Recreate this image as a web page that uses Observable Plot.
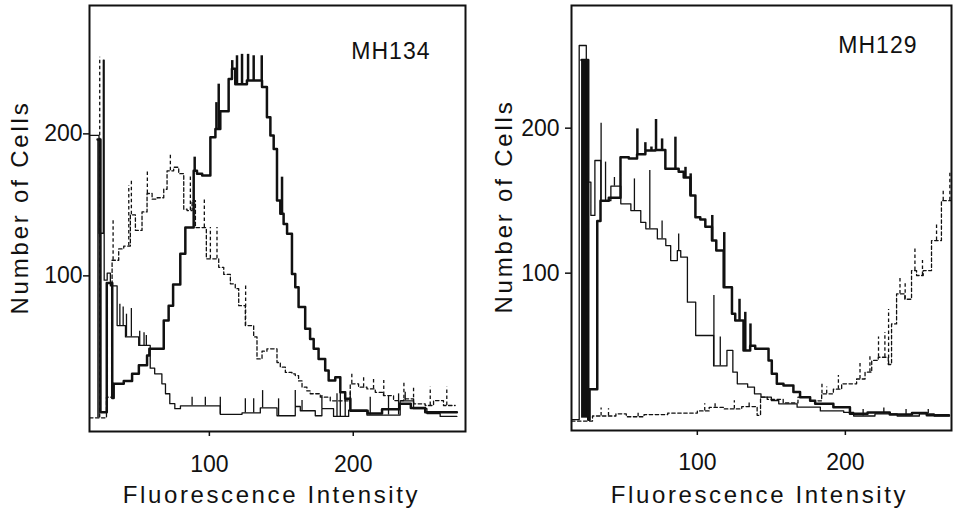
<!DOCTYPE html>
<html><head><meta charset="utf-8">
<script src="https://cdn.jsdelivr.net/npm/d3@7"></script>
<script src="https://cdn.jsdelivr.net/npm/@observablehq/plot@0.6"></script>
<style>
body{margin:0;background:#fff;}
#wrap{display:flex;width:954px;height:509px;overflow:hidden;}
svg{display:block}
</style></head><body><div id="wrap"></div>
<script>
// ---------- Panel titles / labels ----------
const panelNames = ["MH134", "MH129"];
const yTitle = "Number of Cells";
const xTitle = "Fluorescence Intensity";
const tickValues = [100, 200];

// ---------- MH134 (left) : bin left edges and cell counts ----------
const thinL_x = [16.7, 23.3, 26.3, 26.9, 29.0, 31.2, 35.9, 41.7, 50.9, 58.9, 62.0, 67.0, 69.5, 72.5, 76.0, 79.9, 107.6, 122.7, 135.4, 147.0, 159.7, 163.2, 173.6, 178.2, 186.3, 196.8, 209.5, 232.6, 241.9, 251.2, 260.4];
const thinL_y = [199, 130, 252, 97, 102, 93, 65, 57, 51, 35, 31, 24, 17, 10, 6.5, 8.5, 2.5, 3.5, 7, 1.5, 8, 5, 1.5, 6.5, 1, 5.5, 2, 12, 6.5, 3, 1];
const thinL_end = 272;
const thinL_spikes = [[37.8, 80], [40.1, 78], [42.4, 73], [45.8, 77], [51.6, 61], [54.6, 60], [56.2, 58], [88, 14.6], [97.2, 14.6], [107.6, 14.6], [125, 13.4], [130.8, 13.4], [137, 19.2], [148.1, 13.4], [159.7, 19.2], [164.4, 12.2], [178.2, 15.7], [188.7, 16.9], [191, 18], [194.4, 18], [197.9, 18], [211.8, 14.6], [224.5, 15.7], [231.5, 16.9], [236.1, 18]];

const thickL_x = [22.3, 24.3, 28.7, 32.5, 33.5, 40.5, 46.3, 51.0, 56.7, 58.3, 68.3, 71.7, 74.8, 79.8, 83.3, 89.1, 91.4, 95.0, 100.7, 104.2, 107.6, 113.4, 115.7, 118.0, 126.1, 136.6, 140.0, 142.4, 144.7, 147.0, 149.3, 151.6, 154.0, 157.4, 159.7, 162.0, 166.6, 170.0, 172.5, 175.9, 180.5, 182.9, 187.5, 191.0, 194.4, 198.0, 210, 220, 232, 240, 250];
const thickL_y = [196, 4, 95, 14, 24, 26, 31, 37, 44, 48.6, 68.5, 79, 94, 115.5, 134, 174, 172, 170.7, 197.7, 203.5, 216, 238.7, 245.8, 235, 237.6, 233, 211.7, 198.8, 189.4, 153, 143.7, 136.6, 129.6, 101.4, 92, 78, 62.7, 55.6, 48.6, 41.5, 33.3, 26.3, 28.6, 18, 13.4, 5, 3, 6, 10, 7, 4];
const thickL_end = 272;
const thickL_spikes = [[89.8, 183.6], [104.9, 222], [106.5, 235], [115.9, 251.6], [119.2, 255], [122.7, 256], [126.9, 256], [130.8, 255], [136.4, 255], [150.5, 169.5]];

const dashL_x = [16.7, 28.5, 32.4, 37.0, 40.5, 45.1, 48.6, 53.2, 56.7, 60.2, 63.7, 68.3, 70.6, 75.2, 78.7, 82.2, 84.5, 88.0, 90.3, 97.9, 106.5, 110.0, 114.6, 118.0, 120.4, 125.0, 130.8, 133.1, 136.6, 140.0, 147.0, 149.3, 152.8, 157.4, 159.7, 162.0, 164.4, 167.8, 170.1, 177.1, 184.0, 197.9, 203.7, 209.5, 215.3, 221.0, 228.0, 235.0, 241.9, 250.0, 255.8, 262.7];
const dashL_y = [0, 14.6, 111, 119, 121, 143, 132, 145, 158, 154, 155, 161, 174, 176.5, 172, 147, 146, 153, 134, 112, 106, 101, 94.4, 91, 79, 65, 57, 41.5, 47, 48.6, 39, 35.7, 32, 31, 29.8, 26, 21.6, 19, 17, 14.6, 12, 24, 21.6, 20.4, 18, 15.7, 12.2, 13.4, 9.9, 8.7, 12.2, 8.7];
const dashL_end = 270.8;
const dashL_spikes = [[23.8, 254], [33.1, 140], [44, 163.6], [45.8, 167], [56.9, 174], [72.9, 185], [86.8, 170.7], [96.5, 155], [100.7, 134], [105.3, 134], [125.2, 94], [199, 32], [207.2, 28.6], [214.1, 27.5], [221.2, 26.3], [235.2, 25], [241.9, 21.6], [253.5, 21.6], [265, 21.6]];

// ---------- MH129 (right) ----------
const thinR_x = [15.0, 20.2, 25.0, 28.1, 30.8, 34.8, 41.6, 48.3, 55.1, 61.8, 65.2, 73.0, 78.7, 82.0, 86.5, 88.8, 93.3, 98.9, 111.0, 120.0, 124.0, 127.0, 134.0, 138.6, 143.0, 150.0, 155.0, 167.4, 183.1, 198.9, 205.6, 220, 235, 250, 260];
const thinR_y = [-1, 257, 162.8, 139.8, 177.7, 150, 160, 147.8, 143.2, 135, 130.6, 123.7, 119, 108.7, 115.6, 111, 80, 57, 36, 46.7, 31.7, 23.7, 21.4, 16.8, 14.5, 12.2, 9.9, 7.6, 5, 4, 1.5, 3, 1.5, 3, 1.5];
const thinR_end = 270.3;
const thinR_spikes = [[35.0, 203.4], [38, 176.6], [44, 166], [57.5, 165], [67.9, 170.8], [76.2, 136], [87.4, 127], [111.2, 84.6], [115.5, 56], [212, 6], [226, 7], [241, 6], [256, 6]];

const thickR_x = [21.8, 26.3, 27.2, 32.4, 34.6, 40.2, 48.1, 53.7, 59.3, 64.9, 71.7, 78.4, 87.4, 90.8, 95.3, 98.7, 102.0, 105.4, 109.9, 112.8, 117.8, 123.4, 125.6, 131.2, 135.7, 139.1, 148.1, 150.3, 153.7, 158.2, 164.9, 169.4, 176.2, 179.6, 191.9, 203.1, 215, 230, 245, 255];
const thickR_y = [247, -1, 20, 136, 150, 152, 180, 179, 182, 184.6, 185, 172, 170, 166, 153.6, 138.6, 137, 132, 122.5, 115.6, 90.3, 72, 67.4, 46.7, 50, 47.8, 39.8, 30.6, 23.7, 22.5, 18, 14.5, 12, 9.9, 7.6, 3, 4, 2.5, 3.5, 2];
const thickR_end = 270;
const thickR_spikes = [[59.5, 199.5], [64.9, 190], [69, 187], [72.1, 206], [76.2, 192.6], [85.2, 193.8], [92, 173], [95.5, 168.5], [110.1, 139.8], [118.2, 128], [128.5, 82], [132.4, 73], [135.9, 65]];

const dashR_x = [15.0, 29.2, 45, 52, 64.0, 80, 100.0, 108, 118.0, 130, 140.4, 142.7, 147.2, 158, 168, 176, 184.0, 191.9, 197.5, 207.6, 213.3, 217.8, 222.2, 229.0, 231.2, 234.6, 240.2, 244.7, 248.1, 252.6, 258.2, 264.9];
const dashR_y = [-2, 1.5, 3, 1, 2.5, 3.5, 5, 7.5, 6.4, 8, 2, 14.5, 13, 10.5, 14.5, 12, 16.8, 20, 23.7, 27, 31.7, 39.8, 42, 37, 65, 85.7, 82, 101.8, 98.4, 101.8, 122.5, 150];
const dashR_end = 271.7;
const dashR_spikes = [[35, 7], [40, 6.5], [60, 5], [105, 10], [112, 11], [125, 12], [135, 12], [184.2, 23.7], [187.4, 21.5], [195.3, 29.4], [209.9, 38.6], [216.6, 43], [222.4, 56], [226.7, 59], [229.2, 75], [236.9, 97], [240.4, 93.8], [247, 116.8], [252.1, 108.7], [261.6, 135], [266.1, 158], [270.6, 169.7]];

// ---------- helpers (build tables from the arrays) ----------
function steps(xs, ys, end) {
  const pts = xs.map((x, i) => ({x, y: ys[i]}));
  pts.push({x: end, y: ys[ys.length - 1]});
  return pts;
}
function spikes(list, xs, ys) {
  return list.map(([x, top]) => {
    let i = d3.bisectRight(xs, x) - 1;
    if (i < 0) i = 0;
    return {x, base: ys[i], top};
  });
}
const INK = "#111";
const styles = {
  thick: {stroke: INK, strokeWidth: 2.5},
  thin: {stroke: INK, strokeWidth: 1.3},
  dash: {stroke: INK, strokeWidth: 1.3, strokeDasharray: "3.5,2.5"}
};
function series(xs, ys, end, sp, st) {
  return [
    Plot.line(steps(xs, ys, end), {x: "x", y: "y", curve: "step-after", clip: true, ...st}),
    Plot.ruleX(spikes(sp, xs, ys), {x: "x", y1: "base", y2: "top", clip: true, ...st})
  ];
}

function panel(cfg) {
  const p = Plot.plot({
    width: 477, height: 509,
    marginLeft: cfg.ml, marginRight: cfg.mr, marginTop: 5, marginBottom: cfg.mb,
    style: {fontFamily: "'Liberation Sans', Arial, sans-serif", fontSize: "22px", background: "#fff", color: INK, overflow: "visible"},
    x: {domain: cfg.xd},
    y: {domain: cfg.yd},
    marks: [
      Plot.rect([{x1: cfg.col[0], x2: cfg.col[1], y2: cfg.col[2]}], {x1: "x1", x2: "x2", y1: 0, y2: "y2", fill: cfg.colFill, clip: true}),
      ...series(cfg.dash[0], cfg.dash[1], cfg.dash[2], cfg.dash[3], styles.dash),
      ...series(cfg.thin[0], cfg.thin[1], cfg.thin[2], cfg.thin[3], styles.thin),
      ...series(cfg.thick[0], cfg.thick[1], cfg.thick[2], cfg.thick[3], styles.thick),
      Plot.frame({stroke: INK, strokeWidth: 2}),
      Plot.axisY({ticks: tickValues, tickSize: 6, tickPadding: cfg.ytp, label: null, strokeWidth: 1.5, fontSize: 23}),
      Plot.axisX({ticks: tickValues, tickSize: 5, tickPadding: cfg.xtp, label: null, strokeWidth: 1.5, fontSize: 23}),
      Plot.text([cfg.name], {frameAnchor: "top-right", dx: cfg.ndx, dy: cfg.ndy, textAnchor: "end", lineAnchor: "middle", fontSize: 23, fill: INK}),
      Plot.text([yTitle], {frameAnchor: "left", textAnchor: "middle", rotate: -90, dx: cfg.ydx, dy: cfg.ydy, lineAnchor: "middle", fontSize: 24, fill: INK}),
      Plot.text([xTitle], {frameAnchor: "bottom", textAnchor: "middle", dx: cfg.xdx, dy: cfg.xdy, lineAnchor: "middle", fontSize: 24, fill: INK})
    ]
  });
  const sel = d3.select(p).selectAll("text");
  sel.filter(function() { return this.textContent === yTitle; }).style("letter-spacing", "2.8px");
  sel.filter(function() { return this.textContent === xTitle; }).style("letter-spacing", "2.6px");
  sel.filter(function() { return this.textContent === cfg.name; }).style("letter-spacing", "1px");
  return p;
}

const wrap = document.getElementById("wrap");
wrap.appendChild(panel({
  name: panelNames[0], ml: 89, mr: 12, mb: 78,
  xd: [16.7, 278], yd: [-9.6, 290.4], ytp: 1, xtp: 19,
  ndx: -35, ndy: 46, ydx: -69, ydy: -11, xdx: -6, xdy: 64,
  col: [thickL_x[0], thickL_x[1], thickL_y[0]], colFill: "#444",
  thin: [thinL_x, thinL_y, thinL_end, thinL_spikes],
  thick: [thickL_x, thickL_y, thickL_end, thickL_spikes],
  dash: [dashL_x, dashL_y, dashL_end, dashL_spikes]
}));
wrap.appendChild(panel({
  name: panelNames[1], ml: 94, mr: 3, mb: 79,
  xd: [15.0, 271.7], yd: [-8.5, 284.6], ytp: 6, xtp: 18,
  ndx: -34, ndy: 40, ydx: -67, ydy: -11.5, xdx: -2, xdy: 65,
  col: [thickR_x[0], thickR_x[1], thickR_y[0]], colFill: INK,
  thin: [thinR_x, thinR_y, thinR_end, thinR_spikes],
  thick: [thickR_x, thickR_y, thickR_end, thickR_spikes],
  dash: [dashR_x, dashR_y, dashR_end, dashR_spikes]
}));
</script></body></html>
